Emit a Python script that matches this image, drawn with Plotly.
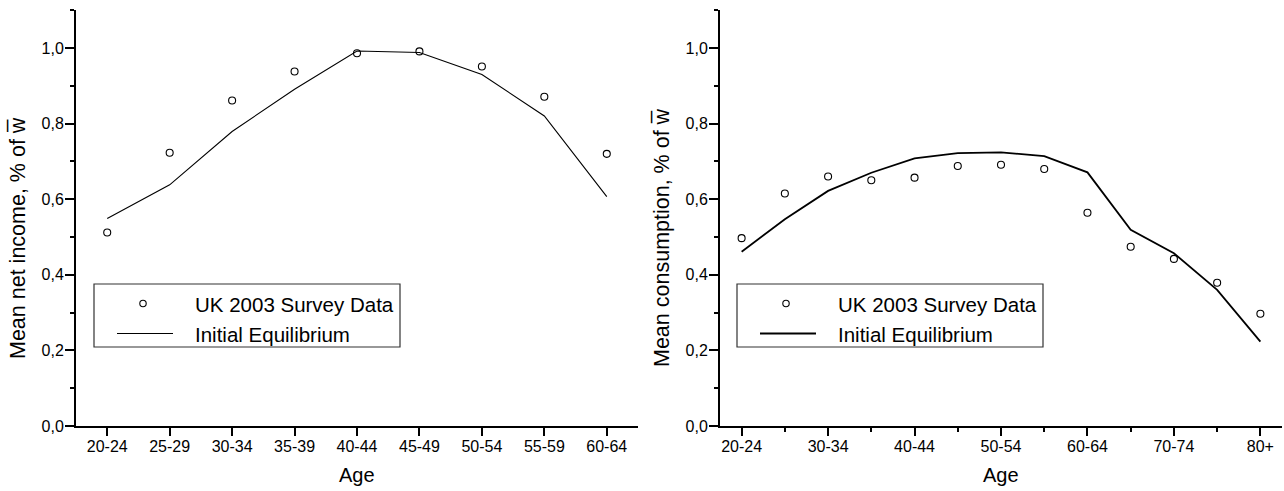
import plotly.graph_objects as go

# ---------------- data ----------------
ages_income = ["20-24", "25-29", "30-34", "35-39", "40-44", "45-49", "50-54", "55-59", "60-64"]
income_survey = [0.512, 0.723, 0.861, 0.938, 0.986, 0.991, 0.951, 0.871, 0.720]
income_model = [0.549, 0.638, 0.779, 0.891, 0.992, 0.988, 0.930, 0.820, 0.607]

ages_cons = ["20-24", "25-29", "30-34", "35-39", "40-44", "45-49", "50-54",
             "55-59", "60-64", "65-69", "70-74", "75-79", "80+"]
cons_survey = [0.497, 0.615, 0.660, 0.650, 0.657, 0.688, 0.691, 0.680, 0.564, 0.474, 0.442, 0.379, 0.297]
cons_model = [0.461, 0.547, 0.622, 0.670, 0.708, 0.722, 0.724, 0.714, 0.671, 0.519, 0.457, 0.360, 0.223]

legend_survey = "UK 2003 Survey Data"
legend_model = "Initial Equilibrium"
ytitle_left = "Mean net income, % of w\u0305"
ytitle_right = "Mean consumption, % of w\u0305"
xtitle = "Age"

# ---------------- layout helpers ----------------
W, H = 1284, 491
FONT = "Liberation Sans, Arial, sans-serif"


def px(x):
    return x / W


def py(y):
    return 1 - y / H


cons_idx = list(range(len(ages_cons)))

fig = go.Figure()

# left panel
fig.add_trace(go.Scatter(x=ages_income, y=income_model, mode="lines",
                         line=dict(color="black", width=1.1),
                         xaxis="x", yaxis="y", showlegend=False, name=legend_model))
fig.add_trace(go.Scatter(x=ages_income, y=income_survey, mode="markers",
                         marker=dict(symbol="circle-open", size=7, color="black",
                                     line=dict(width=1.1, color="black")),
                         xaxis="x", yaxis="y", showlegend=False, name=legend_survey))

# right panel
fig.add_trace(go.Scatter(x=cons_idx, y=cons_model, mode="lines",
                         line=dict(color="black", width=1.8),
                         xaxis="x2", yaxis="y2", showlegend=False, name=legend_model))
fig.add_trace(go.Scatter(x=cons_idx, y=cons_survey, mode="markers",
                         marker=dict(symbol="circle-open", size=7, color="black",
                                     line=dict(width=1.1, color="black")),
                         xaxis="x2", yaxis="y2", showlegend=False, name=legend_survey))

axis_common = dict(showline=True, linecolor="black", linewidth=2, ticks="outside",
                   tickcolor="black", tickwidth=1.5, showgrid=False, zeroline=False,
                   tickfont=dict(family=FONT, size=16, color="black"), automargin=False)

ydom = [py(426), py(10)]
yaxis_common = dict(axis_common, range=[0, 1.1005], tickmode="linear", tick0=0, dtick=0.2,
                    tickformat=".1f", ticklen=9, ticklabelstandoff=-2,
                    minor=dict(ticks="outside", ticklen=4, tickmode="linear", tick0=0.1, dtick=0.2,
                               tickcolor="black", tickwidth=1.5, showgrid=False))

fig.update_layout(
    width=W, height=H,
    margin=dict(l=0, r=0, t=0, b=0),
    paper_bgcolor="white", plot_bgcolor="white",
    separators=",.",
    font=dict(family=FONT, color="black"),
    xaxis=dict(axis_common, domain=[px(76), px(638)], anchor="y", type="category",
               range=[-0.5, len(ages_income) - 0.5], ticklen=8, ticklabelstandoff=-3),
    yaxis=dict(yaxis_common, domain=ydom, anchor="x"),
    xaxis2=dict(axis_common, domain=[px(720), px(1282)], anchor="y2",
                range=[-0.5, len(ages_cons) - 0.5], tickmode="array",
                tickvals=cons_idx[::2], ticktext=ages_cons[::2], ticklen=8, ticklabelstandoff=-3,
                minor=dict(ticks="outside", ticklen=4, tickvals=cons_idx[1::2],
                           tickcolor="black", tickwidth=1.5, showgrid=False)),
    yaxis2=dict(yaxis_common, domain=ydom, anchor="x2"),
)

shapes = []
annotations = []


def add_legend(box_left, line_width):
    top, bottom = 284, 347
    shapes.append(dict(type="rect", xref="paper", yref="paper",
                       x0=px(box_left), x1=px(box_left + 306), y0=py(bottom), y1=py(top),
                       line=dict(color="#333333", width=1.2), fillcolor="rgba(0,0,0,0)"))
    shapes.append(dict(type="circle", xref="paper", yref="paper",
                       xsizemode="pixel", ysizemode="pixel",
                       xanchor=px(box_left + 49), yanchor=py(303.5),
                       x0=-3.2, x1=3.2, y0=-3.2, y1=3.2,
                       line=dict(color="black", width=1.1)))
    shapes.append(dict(type="line", xref="paper", yref="paper",
                       x0=px(box_left + 23), x1=px(box_left + 79), y0=py(333.5), y1=py(333.5),
                       line=dict(color="black", width=line_width)))
    annotations.append(dict(text=legend_survey, xref="paper", yref="paper",
                            x=px(box_left + 99), y=py(304), xanchor="left", yanchor="middle",
                            showarrow=False, font=dict(family=FONT, size=20.5, color="black")))
    annotations.append(dict(text=legend_model, xref="paper", yref="paper",
                            x=px(box_left + 99), y=py(334), xanchor="left", yanchor="middle",
                            showarrow=False, font=dict(family=FONT, size=20.5, color="black")))


add_legend(94, 1.1)
add_legend(737, 1.8)

for xc, txt in [(18, ytitle_left), (662, ytitle_right)]:
    annotations.append(dict(text=txt, xref="paper", yref="paper", x=px(xc), y=py(238),
                            xanchor="center", yanchor="middle", textangle=-90, showarrow=False,
                            font=dict(family=FONT, size=21.5, color="black")))
for xc in [357, 1001]:
    annotations.append(dict(text=xtitle, xref="paper", yref="paper", x=px(xc), y=py(475),
                            xanchor="center", yanchor="middle", showarrow=False,
                            font=dict(family=FONT, size=20, color="black")))

fig.update_layout(shapes=shapes, annotations=annotations)

fig.write_html(
    "out.html",
    config={"displayModeBar": False},
    post_script="document.body.style.margin='0';document.body.style.overflow='hidden';"
                "window.dispatchEvent(new Event('resize'));",
)
